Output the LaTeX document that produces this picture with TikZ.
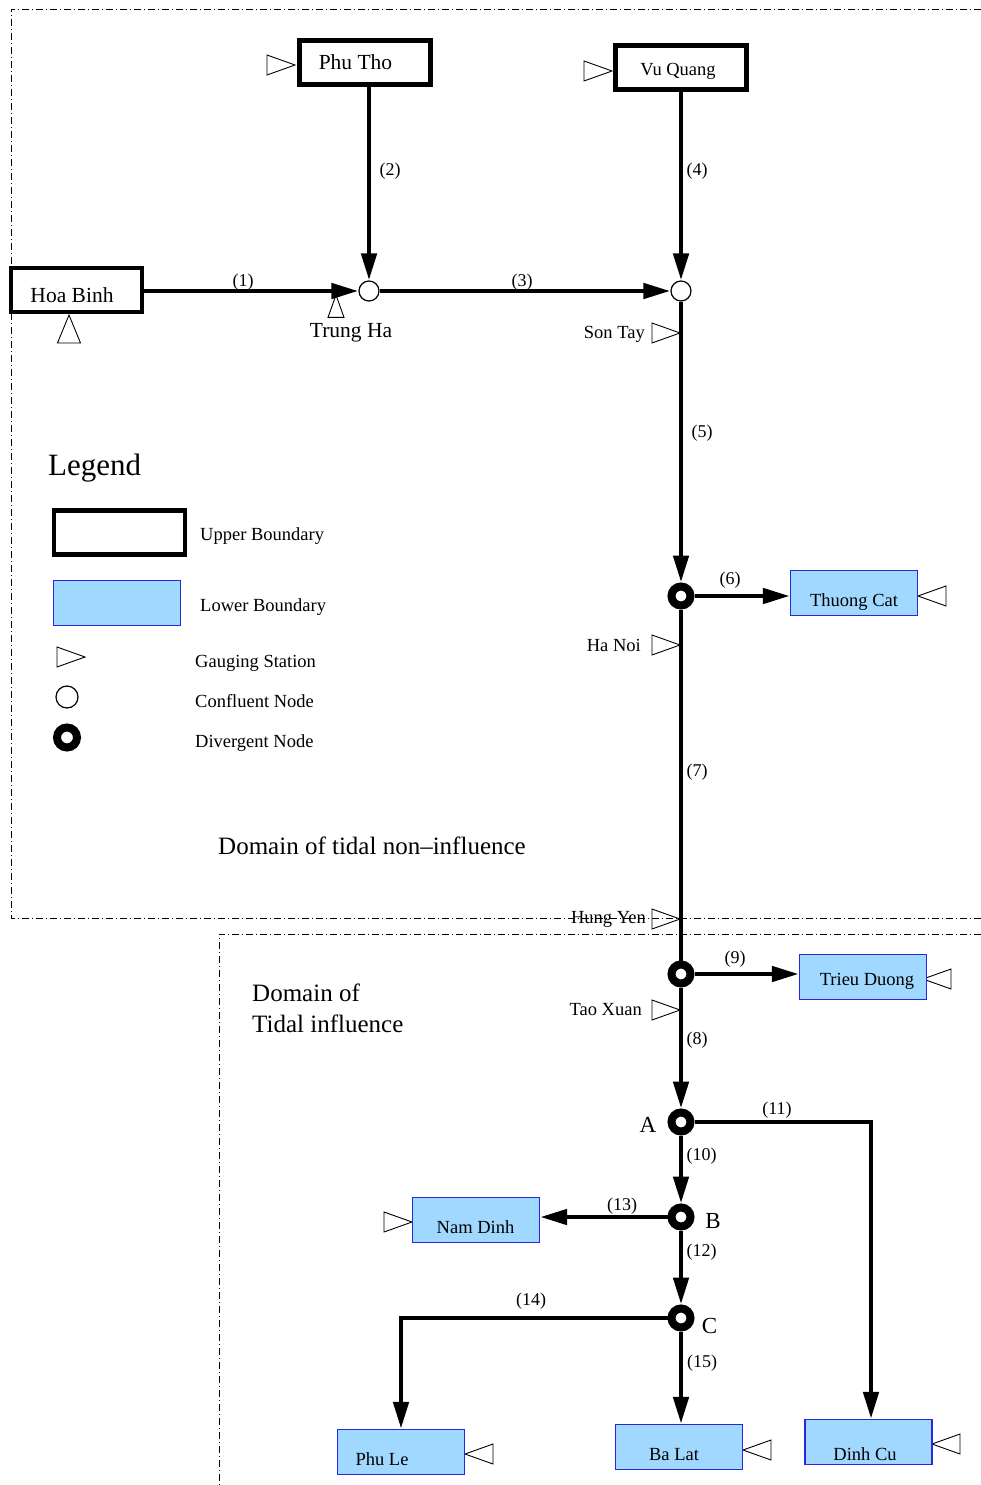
\documentclass[tikz,border=0pt]{standalone}
\usepackage{fontspec}
\setmainfont{Liberation Serif}
\usetikzlibrary{arrows.meta}
\definecolor{lowfill}{RGB}{160,216,255}
\definecolor{lowedge}{RGB}{40,40,225}
\tikzset{
  gauge/.pic={\draw[line width=0.9pt] (0,0) -- (-28,-10) -- (-28,10) -- cycle;},
  upbox/.style={draw, line width=4.5pt, minimum width=131pt, minimum height=44pt, inner sep=0pt},
  lowbox/.style={draw=lowedge, fill=lowfill, line width=1.3pt, minimum width=127pt, minimum height=45pt, inner sep=0pt},
  conf/.style={circle, draw, line width=1.2pt, fill=white, minimum size=20pt, inner sep=0pt},
  divg/.style={circle, draw, line width=8pt, fill=white, minimum size=19pt, inner sep=0pt},
  flow/.style={line width=4.7pt, -{Triangle[length=27pt,width=15pt]}},
  reach/.style={line width=4.7pt},
  zoneline/.style={line width=0.8pt, dash pattern=on 7pt off 3pt on 1pt off 3pt},
  lbl/.style={font=\fontsize{18}{20}\selectfont, inner sep=0pt},
  stn/.style={font=\fontsize{18.5}{21}\selectfont, inner sep=0pt},
  big/.style={font=\fontsize{21.5}{24}\selectfont, inner sep=0pt},
  abc/.style={font=\fontsize{23}{26}\selectfont, inner sep=0pt},
  dom/.style={font=\fontsize{25}{28}\selectfont, inner sep=0pt},
}
\begin{document}
\begin{tikzpicture}[x=1pt,y=-1pt]
\useasboundingbox (0,0) rectangle (981,1485);

% gauging station markers
\pic[rotate=90, yscale=1.15] at (69,315) {gauge};
\pic[rotate=90,scale=0.8] at (336,295) {gauge};
\pic at (295,65) {gauge};
\pic at (612,71) {gauge};
\pic at (680,333) {gauge};
\pic at (680,645) {gauge};
\pic[rotate=180] at (918,596) {gauge};
\pic at (680,919) {gauge};
\pic at (680,1010) {gauge};
\pic[rotate=180] at (923,979) {gauge};
\pic at (412,1222) {gauge};
\pic[rotate=180] at (465,1454) {gauge};
\pic[rotate=180] at (743,1450) {gauge};
\pic[rotate=180] at (932,1444) {gauge};
\pic at (85,657) {gauge};

% station names beside the river
\node[big, anchor=base] (nth) at (351,337) {Trung Ha};
\node[stn, anchor=base east] (nst) at (645,338) {Son Tay};
\node[stn, anchor=base east] (nhn) at (641,651) {Ha Noi};
\node[stn, anchor=base east] (nhy) at (646,923) {Hung Yen};
\node[stn, anchor=base east] (ntx) at (642,1015) {Tao Xuan};

% domain borders
\draw[zoneline] (981,9) -- (11,9) -- (11,918) -- (981,918);
\draw[zoneline] (981,934) -- (219,934) -- (219,1485);

% boundary boxes
\node[upbox] (hb) at (76.5,290) {};
\node[upbox] (pt) at (365,62.5) {};
\node[upbox] (vq) at (681,67.5) {};
\node[lowbox] (tc) at (854,593) {};
\node[lowbox] (trd) at (863,977) {};
\node[lowbox] (nd) at (476,1220) {};
\node[lowbox] (pl) at (401,1452) {};
\node[lowbox] (bl) at (679,1447) {};
\node[lowbox] (dc) at (868.5,1442) {};

\node[big, anchor=base] (hbt) at (72,302) {Hoa Binh};
\node[big, anchor=base] (ptt) at (355.5,70) {Phu Tho};
\node[stn, anchor=base] (vqt) at (678,76) {Vu Quang};
\node[stn, anchor=base] (tct) at (854,606) {Thuong Cat};
\node[stn, anchor=base] (trdt) at (867,985) {Trieu Duong};
\node[stn, anchor=base] (ndt) at (475.5,1233) {Nam Dinh};
\node[stn, anchor=base] (plt) at (382,1465) {Phu Le};
\node[stn, anchor=base] (blt) at (674,1460) {Ba Lat};
\node[stn, anchor=base] (dct) at (865,1460) {Dinh Cu};

% junctions
\node[conf] (th) at (369,291) {};
\node[conf] (st) at (681,291) {};
\node[divg] (hn) at (681,596) {};
\node[divg] (tx) at (681,974) {};
\node[divg] (A) at (681,1122) {};
\node[divg] (B) at (681,1217) {};
\node[divg] (C) at (681,1318) {};

% river reaches
\draw[flow] (th -| hb.east) -- (th);
\draw[flow] (th |- pt.south) -- (th);
\draw[flow] (th) -- (st);
\draw[flow] (st |- vq.south) -- (st);
\draw[flow] (st) -- (hn);
\draw[flow] (hn) -- (hn -| tc.west);
\draw[reach] (hn) -- (tx);
\draw[flow] (tx) -- (tx -| trd.west);
\draw[flow] (tx) -- (A);
\coordinate (k11) at (871,1122);
\draw[flow] (A) -- (k11) -- (k11 |- dc.north);
\draw[flow] (A) -- (B);
\draw[flow] (B) -- (B -| nd.east);
\draw[flow] (B) -- (C);
\draw[flow] (C) -- (C -| pl.north) -- (pl.north);
\draw[flow] (C) -- (C |- bl.north);

% reach numbers
\node[lbl] (l1) at (243,282) {(1)};
\node[lbl] (l2) at (390,171) {(2)};
\node[lbl] (l3) at (522,282) {(3)};
\node[lbl] (l4) at (697,171) {(4)};
\node[lbl] (l5) at (702,433) {(5)};
\node[lbl] (l6) at (730,580) {(6)};
\node[lbl] (l7) at (697,772) {(7)};
\node[lbl] (l8) at (697,1040) {(8)};
\node[lbl] (l9) at (735,959) {(9)};
\node[lbl] (l10) at (701.5,1156) {(10)};
\node[lbl] (l11) at (777,1110) {(11)};
\node[lbl] (l12) at (701.5,1252) {(12)};
\node[lbl] (l13) at (622,1206) {(13)};
\node[lbl] (l14) at (531,1301) {(14)};
\node[lbl] (l15) at (702,1363) {(15)};

\node[abc, anchor=base] (la) at (648,1132) {A};
\node[abc, anchor=base] (lb) at (713,1228) {B};
\node[abc, anchor=base] (lc) at (709.5,1333) {C};

% legend
\node[anchor=base west, font=\fontsize{31}{34}\selectfont, inner sep=0pt] (leg) at (48,475) {Legend};
\node[upbox] (kup) at (119.5,532.5) {};
\node[lowbox] (klow) at (117,603) {};
\node[conf, minimum size=22pt] (kconf) at (67,697) {};
\node[divg, minimum size=20pt] (kdiv) at (67,737.5) {};
\node[stn, anchor=base west] (tup) at (200,540) {Upper Boundary};
\node[stn, anchor=base west] (tlow) at (200,611) {Lower Boundary};
\node[stn, anchor=base west] (tgau) at (195,667) {Gauging Station};
\node[stn, anchor=base west] (tconf) at (195,707) {Confluent Node};
\node[stn, anchor=base west] (tdiv) at (195,747) {Divergent Node};

% domain names
\node[dom, anchor=base west] (d1) at (218,854) {Domain of tidal non–influence};
\node[dom, anchor=base west] (d2) at (252,1001) {Domain of};
\node[dom, anchor=base west] (d3) at (252,1032) {Tidal influence};
\end{tikzpicture}
\end{document}
